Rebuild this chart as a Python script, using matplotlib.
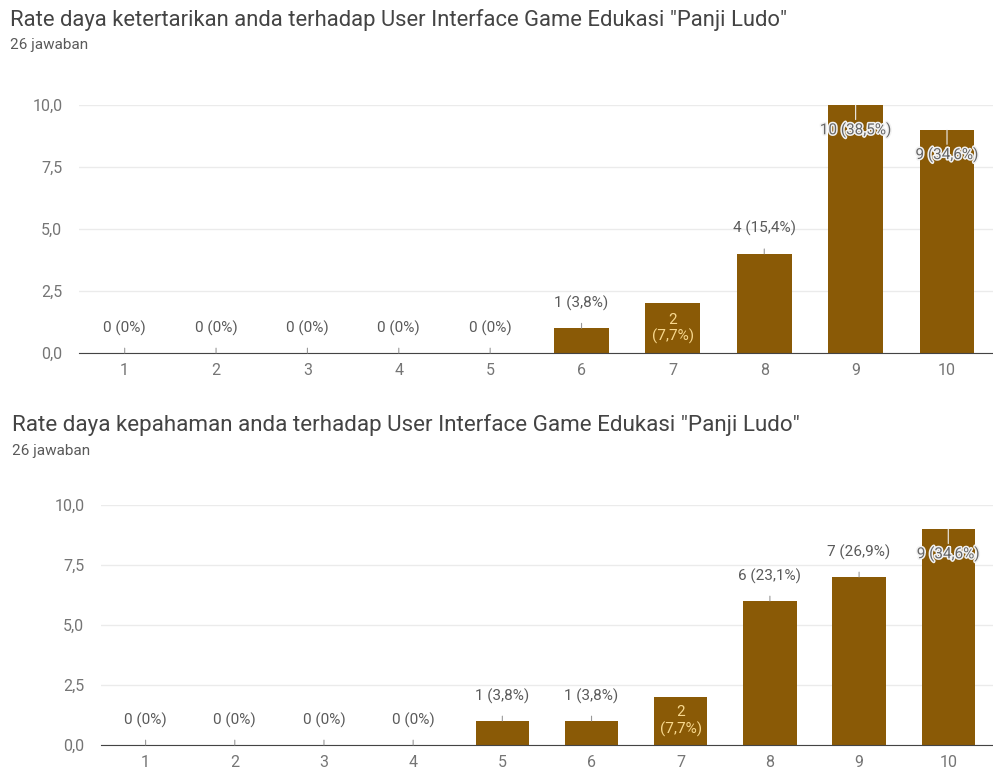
import matplotlib
matplotlib.use("Agg")
import matplotlib.pyplot as plt
import matplotlib.patheffects as pe
from matplotlib.ticker import FuncFormatter

plt.rcParams['font.family'] = ['Roboto', 'DejaVu Sans']

categories = [1, 2, 3, 4, 5, 6, 7, 8, 9, 10]
values_top = [0, 0, 0, 0, 0, 1, 2, 4, 10, 9]
values_bottom = [0, 0, 0, 0, 1, 1, 2, 6, 7, 9]
total = 26
title_top = 'Rate daya ketertarikan anda terhadap User Interface Game Edukasi "Panji Ludo"'
title_bottom = 'Rate daya kepahaman anda terhadap User Interface Game Edukasi "Panji Ludo"'
subtitle = "26 jawaban"
yticks = [0, 2.5, 5, 7.5, 10]

BAR = "#8a5a06"
W, H = 993, 776
fig = plt.figure(figsize=(W / 100, H / 100), dpi=100)

ANN = 11


def fmt_num(v, d=1):
    return f"{v:.{d}f}".replace(".", ",")


def draw(ax, values):
    ax.bar(categories, values, width=0.6, color=BAR, zorder=3)
    ax.set_xlim(0.5, 10.58)
    ax.set_ylim(0, 10)
    ax.set_yticks(yticks)
    ax.yaxis.set_major_formatter(FuncFormatter(lambda v, p: fmt_num(v)))
    ax.set_xticks(categories)
    ax.set_xticklabels([str(c) for c in categories])
    ax.tick_params(length=0, labelsize=11.5, colors="#757575")
    ax.tick_params(axis="y", pad=12)
    ax.tick_params(axis="x", pad=7)
    ax.grid(axis="y", color="#ebebeb", linewidth=1, zorder=0)
    for s in ["top", "right", "left"]:
        ax.spines[s].set_visible(False)
    ax.spines["bottom"].set_color("#444444")
    ax.spines["bottom"].set_zorder(4)
    for c, v in zip(categories, values):
        pct = v / total * 100
        pct_s = "0%" if v == 0 else fmt_num(pct) + "%"
        label = f"{v} ({pct_s})"
        if v >= 9:
            ax.annotate(label, xy=(c, v), xytext=(0, -18), textcoords="offset points",
                        ha="center", va="center", fontsize=ANN, color="#666666",
                        arrowprops=dict(arrowstyle="-", color="#f0f0f0", lw=0.8, shrinkA=0, shrinkB=0),
                        path_effects=[pe.withStroke(linewidth=2.2, foreground="#f2f2f2")], zorder=5)
        elif v == 2:
            ax.annotate(f"{v}\n({pct_s})", xy=(c, v / 2), xytext=(0, 0), textcoords="offset points",
                        ha="center", va="center", fontsize=ANN, color="#f8d88e",
                        linespacing=1.15, zorder=5)
        else:
            ax.annotate(label, xy=(c, v), xytext=(0, 18), textcoords="offset points",
                        ha="center", va="center", fontsize=ANN, color="#5a5a5a",
                        arrowprops=dict(arrowstyle="-", color="#999999", lw=0.8, shrinkA=7, shrinkB=0),
                        zorder=5)


ax1 = fig.add_axes([79 / W, 1 - 353 / H, (1000 - 79) / W, (353 - 105) / H])
draw(ax1, values_top)
ax2 = fig.add_axes([101 / W, 1 - 745 / H, (1000 - 101) / W, (745 - 505) / H])
draw(ax2, values_bottom)

fig.text(10 / W, 1 - 20 / H, title_top, fontsize=15.8, color="#444444", va="center", ha="left")
fig.text(10 / W, 1 - 45 / H, subtitle, fontsize=11, color="#5a5a5a", va="center", ha="left")
fig.text(12 / W, 1 - 425 / H, title_bottom, fontsize=16.1, color="#444444", va="center", ha="left")
fig.text(12 / W, 1 - 451 / H, subtitle, fontsize=11, color="#5a5a5a", va="center", ha="left")

fig.savefig("out.png", dpi=100)
